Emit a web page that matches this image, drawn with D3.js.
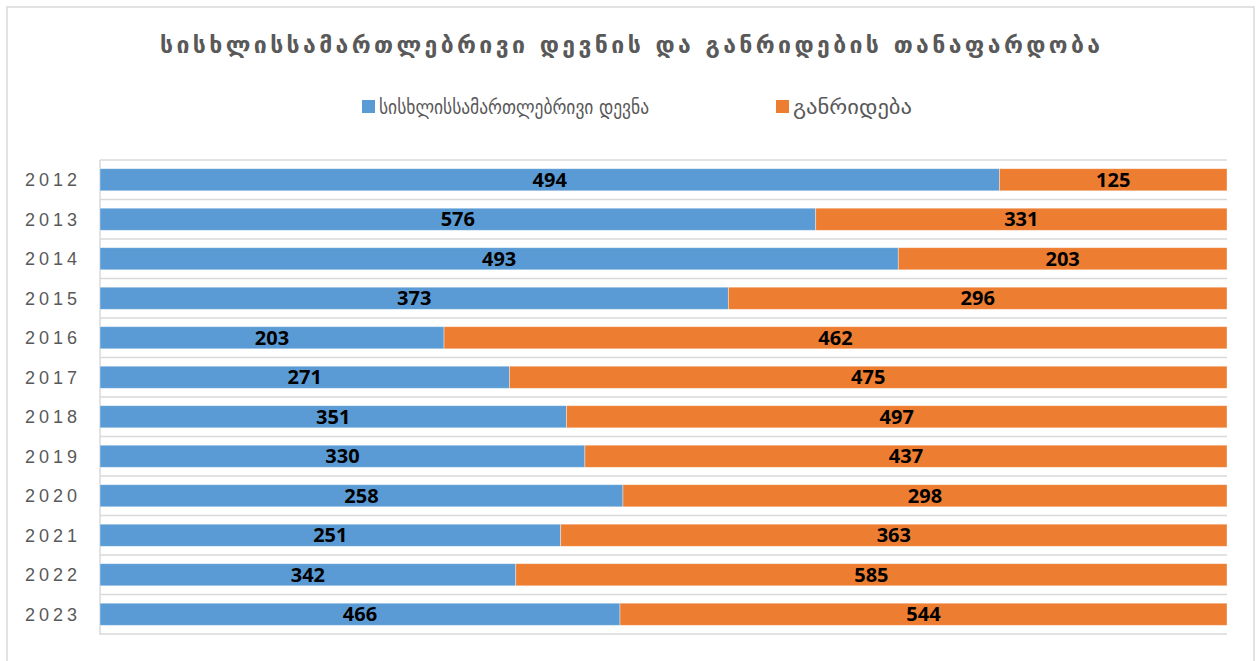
<!DOCTYPE html>
<html>
<head>
<meta charset="utf-8">
<script src="https://cdn.jsdelivr.net/npm/d3@7"></script>
<style>
  html, body { margin: 0; padding: 0; background: #fff; }
  svg { display: block; }
</style>
</head>
<body>
<svg id="chart" width="1257" height="661"></svg>
<script>
const titleText = "სისხლისსამართლებრივი დევნის და განრიდების თანაფარდობა";
const years = ["2012","2013","2014","2015","2016","2017","2018","2019","2020","2021","2022","2023"];
const seriesNames = ["სისხლისსამართლებრივი დევნა", "განრიდება"];
const prosecution = [494, 576, 493, 373, 203, 271, 351, 330, 258, 251, 342, 466];
const diversion   = [125, 331, 203, 296, 462, 475, 497, 437, 298, 363, 585, 544];
const seriesColors = ["#5B9BD5", "#ED7D31"];

const svg = d3.select("#chart");
const plot = { left: 100, right: 1227, top: 160, bottom: 634 };

// outer border
svg.append("rect").attr("x", 7).attr("y", 7).attr("width", 1247).attr("height", 680)
  .attr("fill", "#fff").attr("stroke", "#d9d9d9").attr("stroke-width", 1.5);

// title
svg.append("text").attr("x", 630).attr("y", 53).attr("text-anchor", "middle")
  .attr("font-family", "DejaVu Sans").attr("font-weight", "bold").attr("font-size", 23)
  .attr("fill", "#595959").attr("textLength", 940).attr("lengthAdjust", "spacing")
  .text(titleText);

// legend
const legendPos = [362, 776];
const legendLen = [270, 119];
seriesNames.forEach((name, i) => {
  const g = svg.append("g");
  g.append("rect").attr("x", legendPos[i]).attr("y", 100).attr("width", 13).attr("height", 13)
    .attr("fill", seriesColors[i]);
  g.append("text").attr("x", legendPos[i] + 17).attr("y", 114)
    .attr("font-family", "DejaVu Sans").attr("font-size", 20).attr("fill", "#595959")
    .attr("textLength", legendLen[i]).attr("lengthAdjust", "spacingAndGlyphs")
    .text(name);
});

// scales
const y = d3.scaleBand().domain(years).range([plot.top, plot.bottom])
  .paddingInner(0.44).paddingOuter(0.22);
const x = d3.scaleLinear().domain([0, 1]).range([plot.left, plot.right]);
const step = y.step();
const gap = (step - y.bandwidth()) / 2;

// gridlines at band boundaries
const gridYs = years.map(d => y(d) - gap).concat([y(years[years.length - 1]) + y.bandwidth() + gap]);
svg.append("g").selectAll("line").data(gridYs).join("line")
  .attr("x1", plot.left).attr("x2", plot.right)
  .attr("y1", d => d).attr("y2", d => d)
  .attr("stroke", "#d9d9d9").attr("stroke-width", 1.5);

// left axis line
svg.append("line").attr("x1", plot.left).attr("x2", plot.left)
  .attr("y1", plot.top).attr("y2", plot.bottom + 0.75)
  .attr("stroke", "#d9d9d9").attr("stroke-width", 1.5);

// stacked data (100%)
const rows = years.map((yr, i) => {
  const tot = prosecution[i] + diversion[i];
  return { year: yr, vals: [prosecution[i], diversion[i]], tot };
});

const segs = [];
rows.forEach(r => {
  let acc = 0;
  r.vals.forEach((v, k) => {
    segs.push({ year: r.year, k, v, x0: acc / r.tot, x1: (acc + v) / r.tot });
    acc += v;
  });
});

svg.append("g").selectAll("rect").data(segs).join("rect")
  .attr("x", d => x(d.x0)).attr("width", d => x(d.x1) - x(d.x0))
  .attr("y", d => y(d.year)).attr("height", y.bandwidth())
  .attr("fill", d => seriesColors[d.k])
  .attr("stroke", "#fff").attr("stroke-opacity", 0.5).attr("stroke-width", 0.75);

svg.append("g").selectAll("text").data(segs).join("text")
  .attr("x", d => (x(d.x0) + x(d.x1)) / 2)
  .attr("y", d => y(d.year) + y.bandwidth() / 2)
  .attr("dy", "0.36em").attr("text-anchor", "middle")
  .attr("font-family", "Open Sans").attr("font-weight", 700).attr("font-size", 20)
  .attr("fill", "#000")
  .text(d => d.v);

// y axis labels
const yAxis = d3.axisLeft(y).tickSize(0).tickPadding(0);
const ya = svg.append("g").attr("transform", `translate(${plot.left - 19},0)`).call(yAxis);
ya.select(".domain").remove();
ya.selectAll("text").attr("font-family", "Liberation Sans").attr("font-size", 18)
  .attr("letter-spacing", 4).attr("fill", "#595959").attr("dy", "0.36em");
</script>
</body>
</html>
